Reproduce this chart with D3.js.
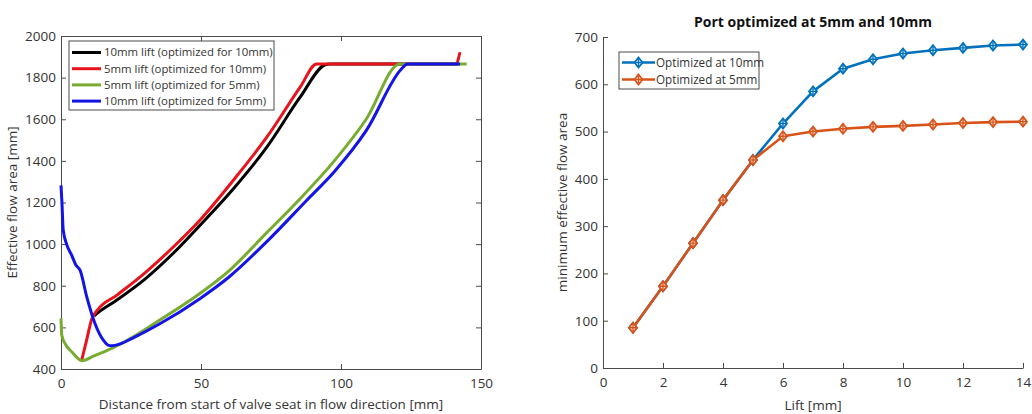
<!DOCTYPE html>
<html>
<head>
<meta charset="utf-8">
<script src="https://cdn.jsdelivr.net/npm/d3@7"></script>
<style>
  body { margin: 0; background: #fff; }
  svg { display: block; font-family: "Open Sans", sans-serif; }
</style>
</head>
<body>
<svg id="chart" width="1032" height="414"></svg>
<script>
// ---------- Left chart data ----------
const leftXTicks = [0, 50, 100, 150];
const leftYTicks = [400, 600, 800, 1000, 1200, 1400, 1600, 1800, 2000];
const leftSeriesNames = [
  "10mm lift (optimized for 10mm)",
  "5mm lift (optimized for 10mm)",
  "5mm lift (optimized for 5mm)",
  "10mm lift (optimized for 5mm)"
];
const leftColors = ["#000000", "#e8141c", "#77ac30", "#1414e6"];

const black10 = [[11.9,655],[13,668],[20,732],[30,832],[40,955],[49.6,1090],[61.5,1265],[73.5,1466],[85.4,1706],[94.3,1862],[96,1866],[142,1866]];
const red5 = [[7.4,443],[9,530],[11,640],[13,683],[20,755],[30,862],[40,985],[49.6,1115],[61.5,1306],[73.5,1514],[85.4,1754],[91.3,1866],[141,1866],[142.5,1922]];
const green5 = [[0,643],[0.3,560],[2,510],[3.8,483],[6.8,443],[7.4,440],[12,464],[18.1,499],[25.8,555],[35,633],[49.6,763],[60,872],[73.5,1055],[84.8,1210],[97.6,1400],[109,1600],[121,1866],[144.9,1866]];
const blue10 = [[0,1282],[0.3,1210],[0.8,1067],[2,1000],[3.8,947],[5.3,900],[6.8,875],[9.2,747],[12.1,620],[15.1,539],[16.8,515],[18.1,512],[21,520],[25.8,550],[35,615],[49.6,738],[60,842],[73.5,1012],[87.7,1210],[97.6,1348],[109,1545],[121.5,1840],[123.7,1866],[142.5,1866]];
const leftSeries = [black10, red5, green5, blue10];

// ---------- Right chart data ----------
const rightTitle = "Port optimized at 5mm and 10mm";
const lift = [1,2,3,4,5,6,7,8,9,10,11,12,13,14];
const opt10 = [85,173,264,355,440,517,585,633,653,665,672,677,682,684];
const opt5  = [85,173,264,355,440,490,500,506,510,512,515,518,520,521];
const rightXTicks = [0,2,4,6,8,10,12,14];
const rightYTicks = [0,100,200,300,400,500,600,700];
const rightSeriesNames = ["Optimized at 10mm", "Optimized at 5mm"];
const rightColors = ["#0072BD", "#D95319"];

const svg = d3.select("#chart");
const axisColor = "#4a4a4a";
const textColor = "#333";

// ===== Left chart =====
const L = {left: 61, right: 481, top: 36, bottom: 369};
const xL = d3.scaleLinear().domain([0,150]).range([L.left, L.right]);
const yL = d3.scaleLinear().domain([400,2000]).range([L.bottom, L.top]);
const gL = svg.append("g");

function styleAxis(g) {
  g.select(".domain").attr("stroke", axisColor).attr("stroke-width", 1);
  g.selectAll(".tick line").attr("stroke", axisColor);
  g.selectAll(".tick text").attr("fill", textColor).style("font-size", "13.5px").style("font-family", "'Open Sans', sans-serif");
}

gL.append("g").attr("transform", `translate(0,${L.bottom})`)
  .call(d3.axisBottom(xL).tickValues(leftXTicks).tickSizeInner(-5).tickSizeOuter(0).tickPadding(9).tickFormat(d3.format("d")))
  .call(styleAxis);
gL.append("g").attr("transform", `translate(0,${L.top})`)
  .call(d3.axisTop(xL).tickValues(leftXTicks).tickSizeInner(-5).tickSizeOuter(0).tickFormat(""))
  .call(styleAxis);
gL.append("g").attr("transform", `translate(${L.left},0)`)
  .call(d3.axisLeft(yL).tickValues(leftYTicks).tickSizeInner(-5).tickSizeOuter(0).tickPadding(5).tickFormat(d3.format("d")))
  .call(styleAxis);
gL.append("g").attr("transform", `translate(${L.right},0)`)
  .call(d3.axisRight(yL).tickValues(leftYTicks).tickSizeInner(-5).tickSizeOuter(0).tickFormat(""))
  .call(styleAxis);

const lineL = d3.line().x(d => xL(d[0])).y(d => yL(d[1])).curve(d3.curveMonotoneX);
leftSeries.forEach((s, i) => {
  gL.append("path").datum(s)
    .attr("fill", "none").attr("stroke", leftColors[i])
    .attr("stroke-width", 3).attr("stroke-linejoin", "round")
    .attr("d", lineL);
});

// left legend
const lgL = gL.append("g").attr("transform", "translate(69,41)");
lgL.append("rect").attr("width", 205).attr("height", 69).attr("fill", "#fff").attr("stroke", axisColor).attr("stroke-width", 1);
leftSeriesNames.forEach((n, i) => {
  const yy = 11.5 + i * 16.2;
  lgL.append("line").attr("x1", 3).attr("x2", 32).attr("y1", yy).attr("y2", yy)
    .attr("stroke", leftColors[i]).attr("stroke-width", 3);
  lgL.append("text").attr("x", 35).attr("y", yy).attr("dy", "0.35em")
    .attr("fill", textColor).style("font-size", "11.4px").text(n);
});

// left labels
svg.append("text").attr("x", (L.left + L.right)/2).attr("y", 409).attr("text-anchor", "middle")
  .attr("fill", textColor).style("font-size", "13.5px")
  .text("Distance from start of valve seat in flow direction [mm]");
svg.append("text").attr("transform", `translate(17,${(L.top+L.bottom)/2}) rotate(-90)`)
  .attr("text-anchor", "middle").attr("fill", textColor).style("font-size", "13.5px")
  .text("Effective flow area [mm]");

// ===== Right chart =====
const R = {left: 603, right: 1023, top: 37, bottom: 368};
const xR = d3.scaleLinear().domain([0,14]).range([R.left, R.right]);
const yR = d3.scaleLinear().domain([0,700]).range([R.bottom, R.top]);
const gR = svg.append("g");

gR.append("g").attr("transform", `translate(0,${R.bottom})`)
  .call(d3.axisBottom(xR).tickValues(rightXTicks).tickSizeInner(-5).tickSizeOuter(0).tickPadding(9))
  .call(styleAxis);
gR.append("g").attr("transform", `translate(${R.left},0)`)
  .call(d3.axisLeft(yR).tickValues(rightYTicks).tickSizeInner(-5).tickSizeOuter(0).tickPadding(5))
  .call(styleAxis);

const rightSeries = [opt10, opt5];
const lineR = d3.line().x((d, i) => xR(lift[i])).y(d => yR(d));
function diamond(g, cx, cy, color) {
  const s = 5;
  g.append("path")
    .attr("d", `M${cx},${cy-s}L${cx+s*0.8},${cy}L${cx},${cy+s}L${cx-s*0.8},${cy}Z`)
    .attr("fill", "#fff").attr("stroke", color).attr("stroke-width", 1.8);
  g.append("path")
    .attr("d", `M${cx},${cy-s}V${cy+s}M${cx-3},${cy}H${cx+3}`)
    .attr("stroke", color).attr("stroke-width", 1.4);
}
rightSeries.forEach((s, k) => {
  gR.append("path").datum(s).attr("fill", "none").attr("stroke", rightColors[k])
    .attr("stroke-width", 2.6).attr("stroke-linejoin", "round").attr("d", lineR);
  const mg = gR.append("g");
  s.forEach((v, i) => diamond(mg, xR(lift[i]), yR(v), rightColors[k]));
});

// right legend
const lgR = gR.append("g").attr("transform", "translate(619,52)");
lgR.append("rect").attr("width", 140).attr("height", 37).attr("fill", "#fff").attr("stroke", axisColor).attr("stroke-width", 1);
rightSeriesNames.forEach((n, i) => {
  const yy = 10.5 + i * 17;
  lgR.append("line").attr("x1", 3).attr("x2", 36).attr("y1", yy).attr("y2", yy)
    .attr("stroke", rightColors[i]).attr("stroke-width", 2.6);
  diamond(lgR, 19.5, yy, rightColors[i]);
  lgR.append("text").attr("x", 37).attr("y", yy).attr("dy", "0.35em")
    .attr("fill", textColor).style("font-size", "11.7px").text(n);
});

svg.append("text").attr("x", 813).attr("y", 27).attr("text-anchor", "middle")
  .attr("fill", "#111").style("font-size", "14px").style("font-weight", "bold")
  .text(rightTitle);
svg.append("text").attr("x", (R.left + R.right)/2).attr("y", 410).attr("text-anchor", "middle")
  .attr("fill", textColor).style("font-size", "13.5px").text("Lift [mm]");
svg.append("text").attr("transform", `translate(567,${(R.top+R.bottom)/2}) rotate(-90)`)
  .attr("text-anchor", "middle").attr("fill", textColor).style("font-size", "13.5px")
  .text("minimum effective flow area");
</script>
</body>
</html>
